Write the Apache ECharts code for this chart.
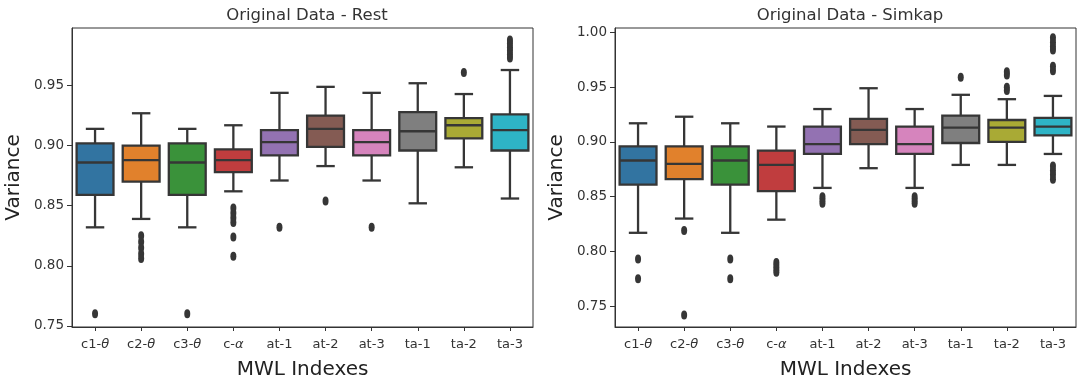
<!DOCTYPE html>
<html>
<head>
<meta charset="utf-8">
<script src="https://cdn.jsdelivr.net/npm/echarts@6/dist/echarts.min.js"></script>
<style>
  html, body { margin: 0; padding: 0; background: #fff; }
  #chart { width: 1084px; height: 380px; }
</style>
</head>
<body>
<div id="chart"></div>
<script>
// categories
var cats = ['c1-θ', 'c2-θ', 'c3-θ', 'c-α', 'at-1', 'at-2', 'at-3', 'ta-1', 'ta-2', 'ta-3'];

// Rest: whisker low, Q1, median, Q3, whisker high
var restLow  = [0.832, 0.839, 0.832, 0.862, 0.871, 0.883, 0.871, 0.852, 0.882, 0.856];
var restQ1   = [0.859, 0.870, 0.859, 0.878, 0.892, 0.899, 0.892, 0.896, 0.906, 0.896];
var restMed  = [0.886, 0.888, 0.886, 0.888, 0.903, 0.914, 0.903, 0.912, 0.917, 0.913];
var restQ3   = [0.902, 0.900, 0.902, 0.897, 0.913, 0.925, 0.913, 0.928, 0.923, 0.926];
var restHigh = [0.914, 0.927, 0.914, 0.917, 0.944, 0.949, 0.944, 0.952, 0.943, 0.963];
var restOut  = [[0.760], [0.825, 0.820, 0.815, 0.810, 0.806], [0.760],
  [0.848, 0.844, 0.840, 0.836, 0.824, 0.808], [0.832], [0.854], [0.832], [], [0.961],
  [0.988, 0.985, 0.982, 0.979, 0.976, 0.973]];

// Simkap
var simLow  = [0.817, 0.830, 0.817, 0.829, 0.858, 0.876, 0.858, 0.879, 0.879, 0.889];
var simQ1   = [0.861, 0.866, 0.861, 0.855, 0.889, 0.898, 0.889, 0.899, 0.900, 0.906];
var simMed  = [0.883, 0.880, 0.883, 0.879, 0.898, 0.911, 0.898, 0.913, 0.913, 0.914];
var simQ3   = [0.896, 0.896, 0.896, 0.892, 0.914, 0.921, 0.914, 0.924, 0.920, 0.922];
var simHigh = [0.917, 0.923, 0.917, 0.914, 0.930, 0.949, 0.930, 0.943, 0.939, 0.942];
var simOut  = [[0.793, 0.775], [0.819, 0.742], [0.793, 0.775], [0.790, 0.787, 0.784, 0.781],
  [0.850, 0.847, 0.844], [], [0.850, 0.847, 0.844], [0.959], [0.964, 0.961, 0.950, 0.947],
  [0.995, 0.991, 0.987, 0.984, 0.969, 0.965, 0.878, 0.874, 0.870, 0.866]];

// tick labels
var restTicks = [0.75, 0.80, 0.85, 0.90, 0.95];
var simTicks  = [0.75, 0.80, 0.85, 0.90, 0.95, 1.00];

var palette = ['#3274a1', '#e1812c', '#3a923a', '#c03d3e', '#9372b2',
               '#845b53', '#d684bd', '#7f7f7f', '#a9aa35', '#2eb4c6'];
var edge = '#363636';
var font = 'DejaVu Sans';

function boxRows(low, q1, med, q3, high) {
  return cats.map(function (c, i) { return [i, low[i], q1[i], med[i], q3[i], high[i]]; });
}
function outPoints(out) {
  var pts = [];
  out.forEach(function (arr, i) { arr.forEach(function (v) { pts.push([i, v]); }); });
  return pts;
}

// 箱体绘制
function renderBox(params, api) {
  var idx = api.value(0);
  var low = api.coord([idx, api.value(1)]);
  var q1 = api.coord([idx, api.value(2)]);
  var med = api.coord([idx, api.value(3)]);
  var q3 = api.coord([idx, api.value(4)]);
  var high = api.coord([idx, api.value(5)]);
  var band = api.size([1, 0])[0];
  var hw = band * 0.4, cw = band * 0.2;
  var x = low[0];
  var st = { stroke: edge, lineWidth: 2.3, fill: null };
  return {
    type: 'group',
    children: [
      { type: 'line', shape: { x1: x, y1: high[1], x2: x, y2: q3[1] }, style: st },
      { type: 'line', shape: { x1: x, y1: q1[1], x2: x, y2: low[1] }, style: st },
      { type: 'line', shape: { x1: x - cw, y1: high[1], x2: x + cw, y2: high[1] }, style: st },
      { type: 'line', shape: { x1: x - cw, y1: low[1], x2: x + cw, y2: low[1] }, style: st },
      { type: 'rect', shape: { x: x - hw, y: q3[1], width: hw * 2, height: q1[1] - q3[1] },
        style: { fill: palette[idx], stroke: edge, lineWidth: 2.3 } },
      { type: 'line', shape: { x1: x - hw, y1: med[1], x2: x + hw, y2: med[1] }, style: st }
    ]
  };
}

function xAxisCfg(gi) {
  return {
    type: 'category', gridIndex: gi, data: cats, boundaryGap: true,
    name: 'MWL Indexes', nameLocation: 'middle', nameGap: 33,
    nameTextStyle: { fontSize: 20, color: '#222', fontFamily: font },
    axisLine: { show: true, lineStyle: { color: '#333', width: 1 } },
    axisTick: { show: true, alignWithLabel: true, interval: 0, length: 4, lineStyle: { color: '#333' } },
    axisLabel: {
      interval: 0, fontSize: 13, color: '#333', fontFamily: font, margin: 11,
      formatter: function (v) {
        var m = v.match(/^(.*-)([θα])$/);
        return m ? m[1] + '{g|' + m[2] + '}' : v;
      },
      rich: { g: { fontStyle: 'italic', fontSize: 13, color: '#333', fontFamily: font } }
    },
    splitLine: { show: false }
  };
}

function yAxisCfg(gi, min, max, ticks) {
  return {
    type: 'value', gridIndex: gi, min: min, max: max,
    name: 'Variance', nameLocation: 'middle', nameGap: 48,
    nameTextStyle: { fontSize: 20, color: '#222', fontFamily: font },
    axisLine: { show: true, lineStyle: { color: '#333', width: 1 } },
    axisTick: { show: true, length: 5, customValues: ticks, lineStyle: { color: '#333' } },
    axisLabel: {
      customValues: ticks, fontSize: 13.5, color: '#333', fontFamily: font, margin: 8,
      formatter: function (v) { return v.toFixed(2); }
    },
    splitLine: { show: false }
  };
}

var chart = echarts.init(document.getElementById('chart'));
var option = {
  animation: false,
  backgroundColor: '#fff',
  title: [
    { text: 'Original Data - Rest', left: 302, top: 2, textAlign: 'center',
      textStyle: { fontSize: 16.5, fontWeight: 'normal', color: '#333', fontFamily: font } },
    { text: 'Original Data - Simkap', left: 845, top: 2, textAlign: 'center',
      textStyle: { fontSize: 16.5, fontWeight: 'normal', color: '#333', fontFamily: font } }
  ],
  grid: [
    { left: 72, right: 551, top: 28, bottom: 53, show: true, borderColor: '#333', borderWidth: 1,
      outerBoundsMode: 'none', containLabel: false },
    { left: 615, right: 8, top: 28, bottom: 53, show: true, borderColor: '#333', borderWidth: 1,
      outerBoundsMode: 'none', containLabel: false }
  ],
  xAxis: [xAxisCfg(0), xAxisCfg(1)],
  yAxis: [yAxisCfg(0, 0.749, 0.998, restTicks), yAxisCfg(1, 0.731, 1.004, simTicks)],
  series: [
    { type: 'custom', xAxisIndex: 0, yAxisIndex: 0, renderItem: renderBox,
      encode: { x: 0, y: [1, 2, 3, 4, 5] }, data: boxRows(restLow, restQ1, restMed, restQ3, restHigh) },
    { type: 'scatter', xAxisIndex: 0, yAxisIndex: 0, symbol: 'circle', symbolSize: [6, 9],
      itemStyle: { color: edge, opacity: 1 }, data: outPoints(restOut) },
    { type: 'custom', xAxisIndex: 1, yAxisIndex: 1, renderItem: renderBox,
      encode: { x: 0, y: [1, 2, 3, 4, 5] }, data: boxRows(simLow, simQ1, simMed, simQ3, simHigh) },
    { type: 'scatter', xAxisIndex: 1, yAxisIndex: 1, symbol: 'circle', symbolSize: [6, 9],
      itemStyle: { color: edge, opacity: 1 }, data: outPoints(simOut) }
  ]
};
chart.setOption(option);
</script>
</body>
</html>
